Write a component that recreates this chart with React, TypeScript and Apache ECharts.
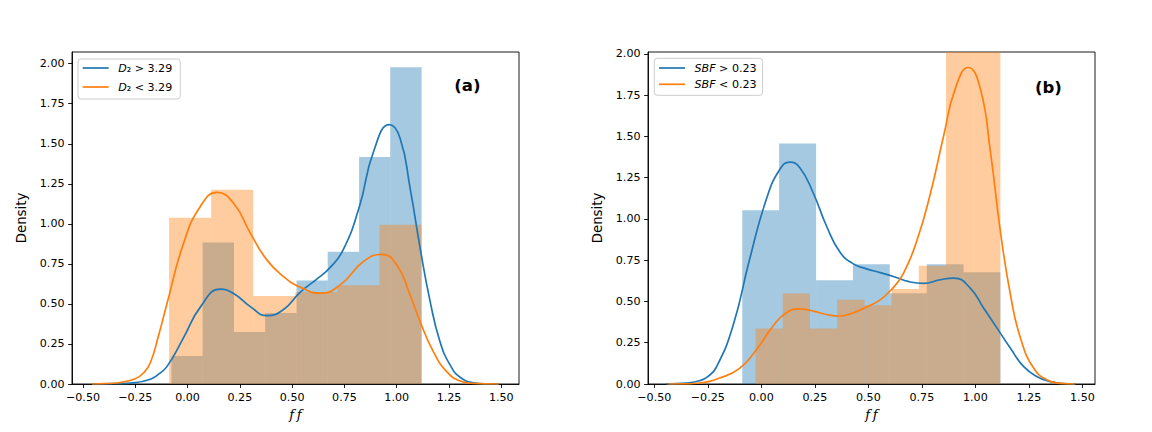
import React, { useEffect, useRef } from "react";
import * as echarts from "echarts";

// ---- tick labels ----
const xTicks = [-0.5, -0.25, 0, 0.25, 0.5, 0.75, 1.0, 1.25, 1.5];
const yTicks = [0, 0.25, 0.5, 0.75, 1.0, 1.25, 1.5, 1.75, 2.0];

// ---- panel (a): histogram bin edges and densities ----
const aHighEdges = [-0.077, 0.072, 0.222, 0.371, 0.521, 0.670, 0.820, 0.969, 1.119];
const aHighHeights = [0.175, 0.883, 0.325, 0.444, 0.646, 0.825, 1.417, 1.977];
const aLowEdges = [-0.0885, 0.1128, 0.3141, 0.5154, 0.7167, 0.918, 1.119];
const aLowHeights = [1.0375, 1.2125, 0.55, 0.575, 0.617, 0.994];

// ---- panel (a): KDE curves [x, density] ----
const aHighKde = [
  [-0.456, 0], [-0.35, 0.002], [-0.25, 0.009], [-0.178, 0.03], [-0.14, 0.06],
  [-0.098, 0.11], [-0.019, 0.29], [0.061, 0.48], [0.156, 0.592], [0.22, 0.565],
  [0.3, 0.483], [0.38, 0.427], [0.459, 0.465], [0.538, 0.572], [0.618, 0.655],
  [0.68, 0.725], [0.745, 0.84], [0.822, 1.11], [0.889, 1.45], [0.965, 1.619],
  [1.016, 1.535], [1.064, 1.223], [1.112, 0.848], [1.16, 0.514], [1.207, 0.264],
  [1.255, 0.119], [1.303, 0.042], [1.367, 0.008], [1.43, 0.001], [1.488, 0],
];
const aLowKde = [
  [-0.456, 0], [-0.4, 0.002], [-0.33, 0.008], [-0.25, 0.033], [-0.21, 0.07],
  [-0.178, 0.133], [-0.14, 0.296], [-0.098, 0.504], [-0.019, 0.879], [0.061, 1.108],
  [0.14, 1.196], [0.22, 1.129], [0.3, 0.942], [0.379, 0.775], [0.459, 0.671],
  [0.538, 0.605], [0.634, 0.567], [0.73, 0.619], [0.841, 0.765], [0.929, 0.81],
  [1.0, 0.744], [1.064, 0.556], [1.112, 0.389], [1.175, 0.202], [1.239, 0.077],
  [1.303, 0.019], [1.367, 0.004], [1.488, 0],
];

// ---- panel (b): histogram bin edges and densities ----
const bHighEdges = [-0.089, 0.083, 0.256, 0.428, 0.600, 0.773, 0.945, 1.117];
const bHighHeights = [1.053, 1.458, 0.629, 0.726, 0.55, 0.726, 0.677];
const bLowEdges = [-0.027, 0.100, 0.227, 0.354, 0.482, 0.609, 0.736, 0.863, 0.990, 1.117];
const bLowHeights = [0.337, 0.548, 0.337, 0.511, 0.477, 0.576, 0.716, 2.08, 2.28];

// ---- panel (b): KDE curves [x, density] ----
const bHighKde = [
  [-0.445, 0], [-0.35, 0.005], [-0.289, 0.02], [-0.25, 0.045], [-0.211, 0.1],
  [-0.133, 0.35], [-0.055, 0.754], [0.023, 1.118], [0.086, 1.3], [0.133, 1.345],
  [0.18, 1.311], [0.242, 1.159], [0.305, 0.956], [0.367, 0.8], [0.43, 0.728],
  [0.492, 0.698], [0.555, 0.675], [0.62, 0.65], [0.69, 0.62], [0.758, 0.61],
  [0.836, 0.632], [0.9, 0.642], [0.977, 0.58], [1.039, 0.459], [1.102, 0.337],
  [1.164, 0.216], [1.226, 0.105], [1.289, 0.044], [1.352, 0.014], [1.41, 0.003],
  [1.469, 0],
];
const bLowKde = [
  [-0.435, 0], [-0.35, 0.001], [-0.289, 0.006], [-0.195, 0.036], [-0.102, 0.095],
  [-0.023, 0.208], [0.054, 0.35], [0.117, 0.432], [0.18, 0.455], [0.242, 0.442],
  [0.305, 0.421], [0.367, 0.412], [0.43, 0.432], [0.492, 0.467], [0.555, 0.51],
  [0.61, 0.575], [0.664, 0.671], [0.727, 0.87], [0.789, 1.15], [0.851, 1.5],
  [0.906, 1.79], [0.967, 1.918], [1.023, 1.79], [1.07, 1.41], [1.117, 0.924],
  [1.164, 0.54], [1.211, 0.277], [1.273, 0.095], [1.336, 0.024], [1.398, 0.004],
  [1.464, 0],
];

const seriesNames = ["D_2 > 3.29", "D_2 < 3.29", "SBF > 0.23", "SBF < 0.23"];

const BLUE = "#1f77b4";
const ORANGE = "#ff7f0e";
const BLUE_FILL = "rgba(31,119,180,0.4)";
const ORANGE_FILL = "rgba(255,127,14,0.4)";
const FONT = "DejaVu Sans";

function toBins(edges: number[], heights: number[]) {
  return heights.map((h, i) => [edges[i], edges[i + 1], h]);
}

const fmt = (v: number) => (v < 0 ? "\u2212" : "") + Math.abs(v).toFixed(2);

function histSeries(idx: number, data: number[][], fill: string) {
  return {
    type: "custom",
    xAxisIndex: idx,
    yAxisIndex: idx,
    clip: true,
    silent: true,
    encode: { x: [0, 1], y: 2 },
    data,
    renderItem: (_params: any, api: any) => {
      const a = api.coord([api.value(0), 0]);
      const b = api.coord([api.value(1), api.value(2)]);
      return {
        type: "rect",
        shape: { x: a[0], y: b[1], width: b[0] - a[0], height: a[1] - b[1] },
        style: { fill },
      };
    },
  };
}

function kdeSeries(idx: number, name: string, data: number[][], color: string) {
  return {
    type: "line",
    name,
    xAxisIndex: idx,
    yAxisIndex: idx,
    data,
    smooth: 0.5,
    showSymbol: false,
    symbol: "none",
    color,
    itemStyle: { color },
    lineStyle: { color, width: 1.7 },
  };
}

function legendFormatter(name: string) {
  if (name.startsWith("D_2")) {
    return "{it|D}{n|\u2082 " + name.slice(4) + "}";
  }
  return "{it|SBF}{n| " + name.slice(4) + "}";
}

const legendRich = {
  it: { fontFamily: FONT, fontStyle: "italic", fontSize: 11.1, color: "#000", padding: [0, 0, 0, 4.5] },
  n: { fontFamily: FONT, fontSize: 11.1, color: "#000" },
};

function xAxisCfg(idx: number, min: number, max: number) {
  return {
    type: "value",
    gridIndex: idx,
    min,
    max,
    name: "f\u2009f",
    nameLocation: "middle",
    nameGap: 24,
    nameTextStyle: { fontFamily: "DejaVu Serif", fontStyle: "italic", fontSize: 13.3, color: "#000" },
    axisLine: { show: true, onZero: false, lineStyle: { color: "#000", width: 0.9 } },
    axisTick: { show: true, length: 3.9, lineStyle: { color: "#000", width: 0.9 }, customValues: xTicks },
    axisLabel: {
      show: true,
      margin: 7.5,
      fontFamily: FONT,
      fontSize: 11.1,
      color: "#000",
      customValues: xTicks,
      formatter: (v: number) => fmt(v),
    },
    splitLine: { show: false },
  };
}

function yAxisCfg(idx: number, max: number) {
  return {
    type: "value",
    gridIndex: idx,
    min: 0,
    max,
    name: "Density",
    nameLocation: "middle",
    nameRotate: 90,
    nameGap: 44,
    nameTextStyle: { fontFamily: FONT, fontSize: 13.3, color: "#000" },
    axisLine: { show: true, onZero: false, lineStyle: { color: "#000", width: 0.9 } },
    axisTick: { show: true, length: 3.9, lineStyle: { color: "#000", width: 0.9 }, customValues: yTicks },
    axisLabel: {
      show: true,
      margin: 7.5,
      fontFamily: FONT,
      fontSize: 11.1,
      color: "#000",
      customValues: yTicks,
      formatter: (v: number) => fmt(v),
    },
    splitLine: { show: false },
  };
}

export default function App() {
  const ref = useRef<HTMLDivElement>(null);

  useEffect(() => {
    if (!ref.current) return;
    const chart = echarts.init(ref.current, undefined, { renderer: "svg" });
    const option: any = {
      animation: false,
      backgroundColor: "#fff",
      grid: [
        { left: 72, top: 52, width: 447, height: 332, show: true, borderColor: "#000", borderWidth: 0.9, backgroundColor: "transparent" },
        { left: 648, top: 52, width: 447, height: 332, show: true, borderColor: "#000", borderWidth: 0.9, backgroundColor: "transparent" },
      ],
      xAxis: [xAxisCfg(0, -0.5526, 1.5847), xAxisCfg(1, -0.5295, 1.5589)],
      yAxis: [yAxisCfg(0, 2.073), yAxisCfg(1, 2.012)],
      legend: [
        {
          data: [seriesNames[0], seriesNames[1]],
          orient: "vertical",
          left: 78,
          top: 59,
          icon: "rect",
          itemWidth: 26,
          itemHeight: 1.7,
          itemGap: 8,
          padding: [3.5, 8, 6.5, 4.7],
          borderColor: "#cccccc",
          borderWidth: 1,
          borderRadius: 3,
          backgroundColor: "rgba(255,255,255,0.8)",
          formatter: legendFormatter,
          textStyle: { fontFamily: FONT, fontSize: 11.1, color: "#000", rich: legendRich },
        },
        {
          data: [seriesNames[2], seriesNames[3]],
          orient: "vertical",
          left: 654.3,
          top: 58.3,
          icon: "rect",
          itemWidth: 26,
          itemHeight: 1.7,
          itemGap: 5.3,
          padding: [4.2, 6, 5.5, 4.7],
          borderColor: "#cccccc",
          borderWidth: 1,
          borderRadius: 3,
          backgroundColor: "rgba(255,255,255,0.8)",
          formatter: legendFormatter,
          textStyle: { fontFamily: FONT, fontSize: 11.1, color: "#000", rich: legendRich },
        },
      ],
      graphic: [
        { type: "text", x: 454.3, y: 85, style: { text: "(a)", font: "bold 16.5px 'DejaVu Sans'", fill: "#000", verticalAlign: "middle" } },
        { type: "text", x: 1035, y: 87, style: { text: "(b)", font: "bold 16.5px 'DejaVu Sans'", fill: "#000", verticalAlign: "middle" } },
      ],
      series: [
        histSeries(0, toBins(aHighEdges, aHighHeights), BLUE_FILL),
        kdeSeries(0, seriesNames[0], aHighKde, BLUE),
        histSeries(0, toBins(aLowEdges, aLowHeights), ORANGE_FILL),
        kdeSeries(0, seriesNames[1], aLowKde, ORANGE),
        histSeries(1, toBins(bHighEdges, bHighHeights), BLUE_FILL),
        kdeSeries(1, seriesNames[2], bHighKde, BLUE),
        histSeries(1, toBins(bLowEdges, bLowHeights), ORANGE_FILL),
        kdeSeries(1, seriesNames[3], bLowKde, ORANGE),
      ],
    };
    chart.setOption(option);
    return () => chart.dispose();
  }, []);

  return (
    <div
      ref={ref}
      style={{ position: "fixed", left: 0, top: 0, width: 1152, height: 432, background: "#fff" }}
    />
  );
}
